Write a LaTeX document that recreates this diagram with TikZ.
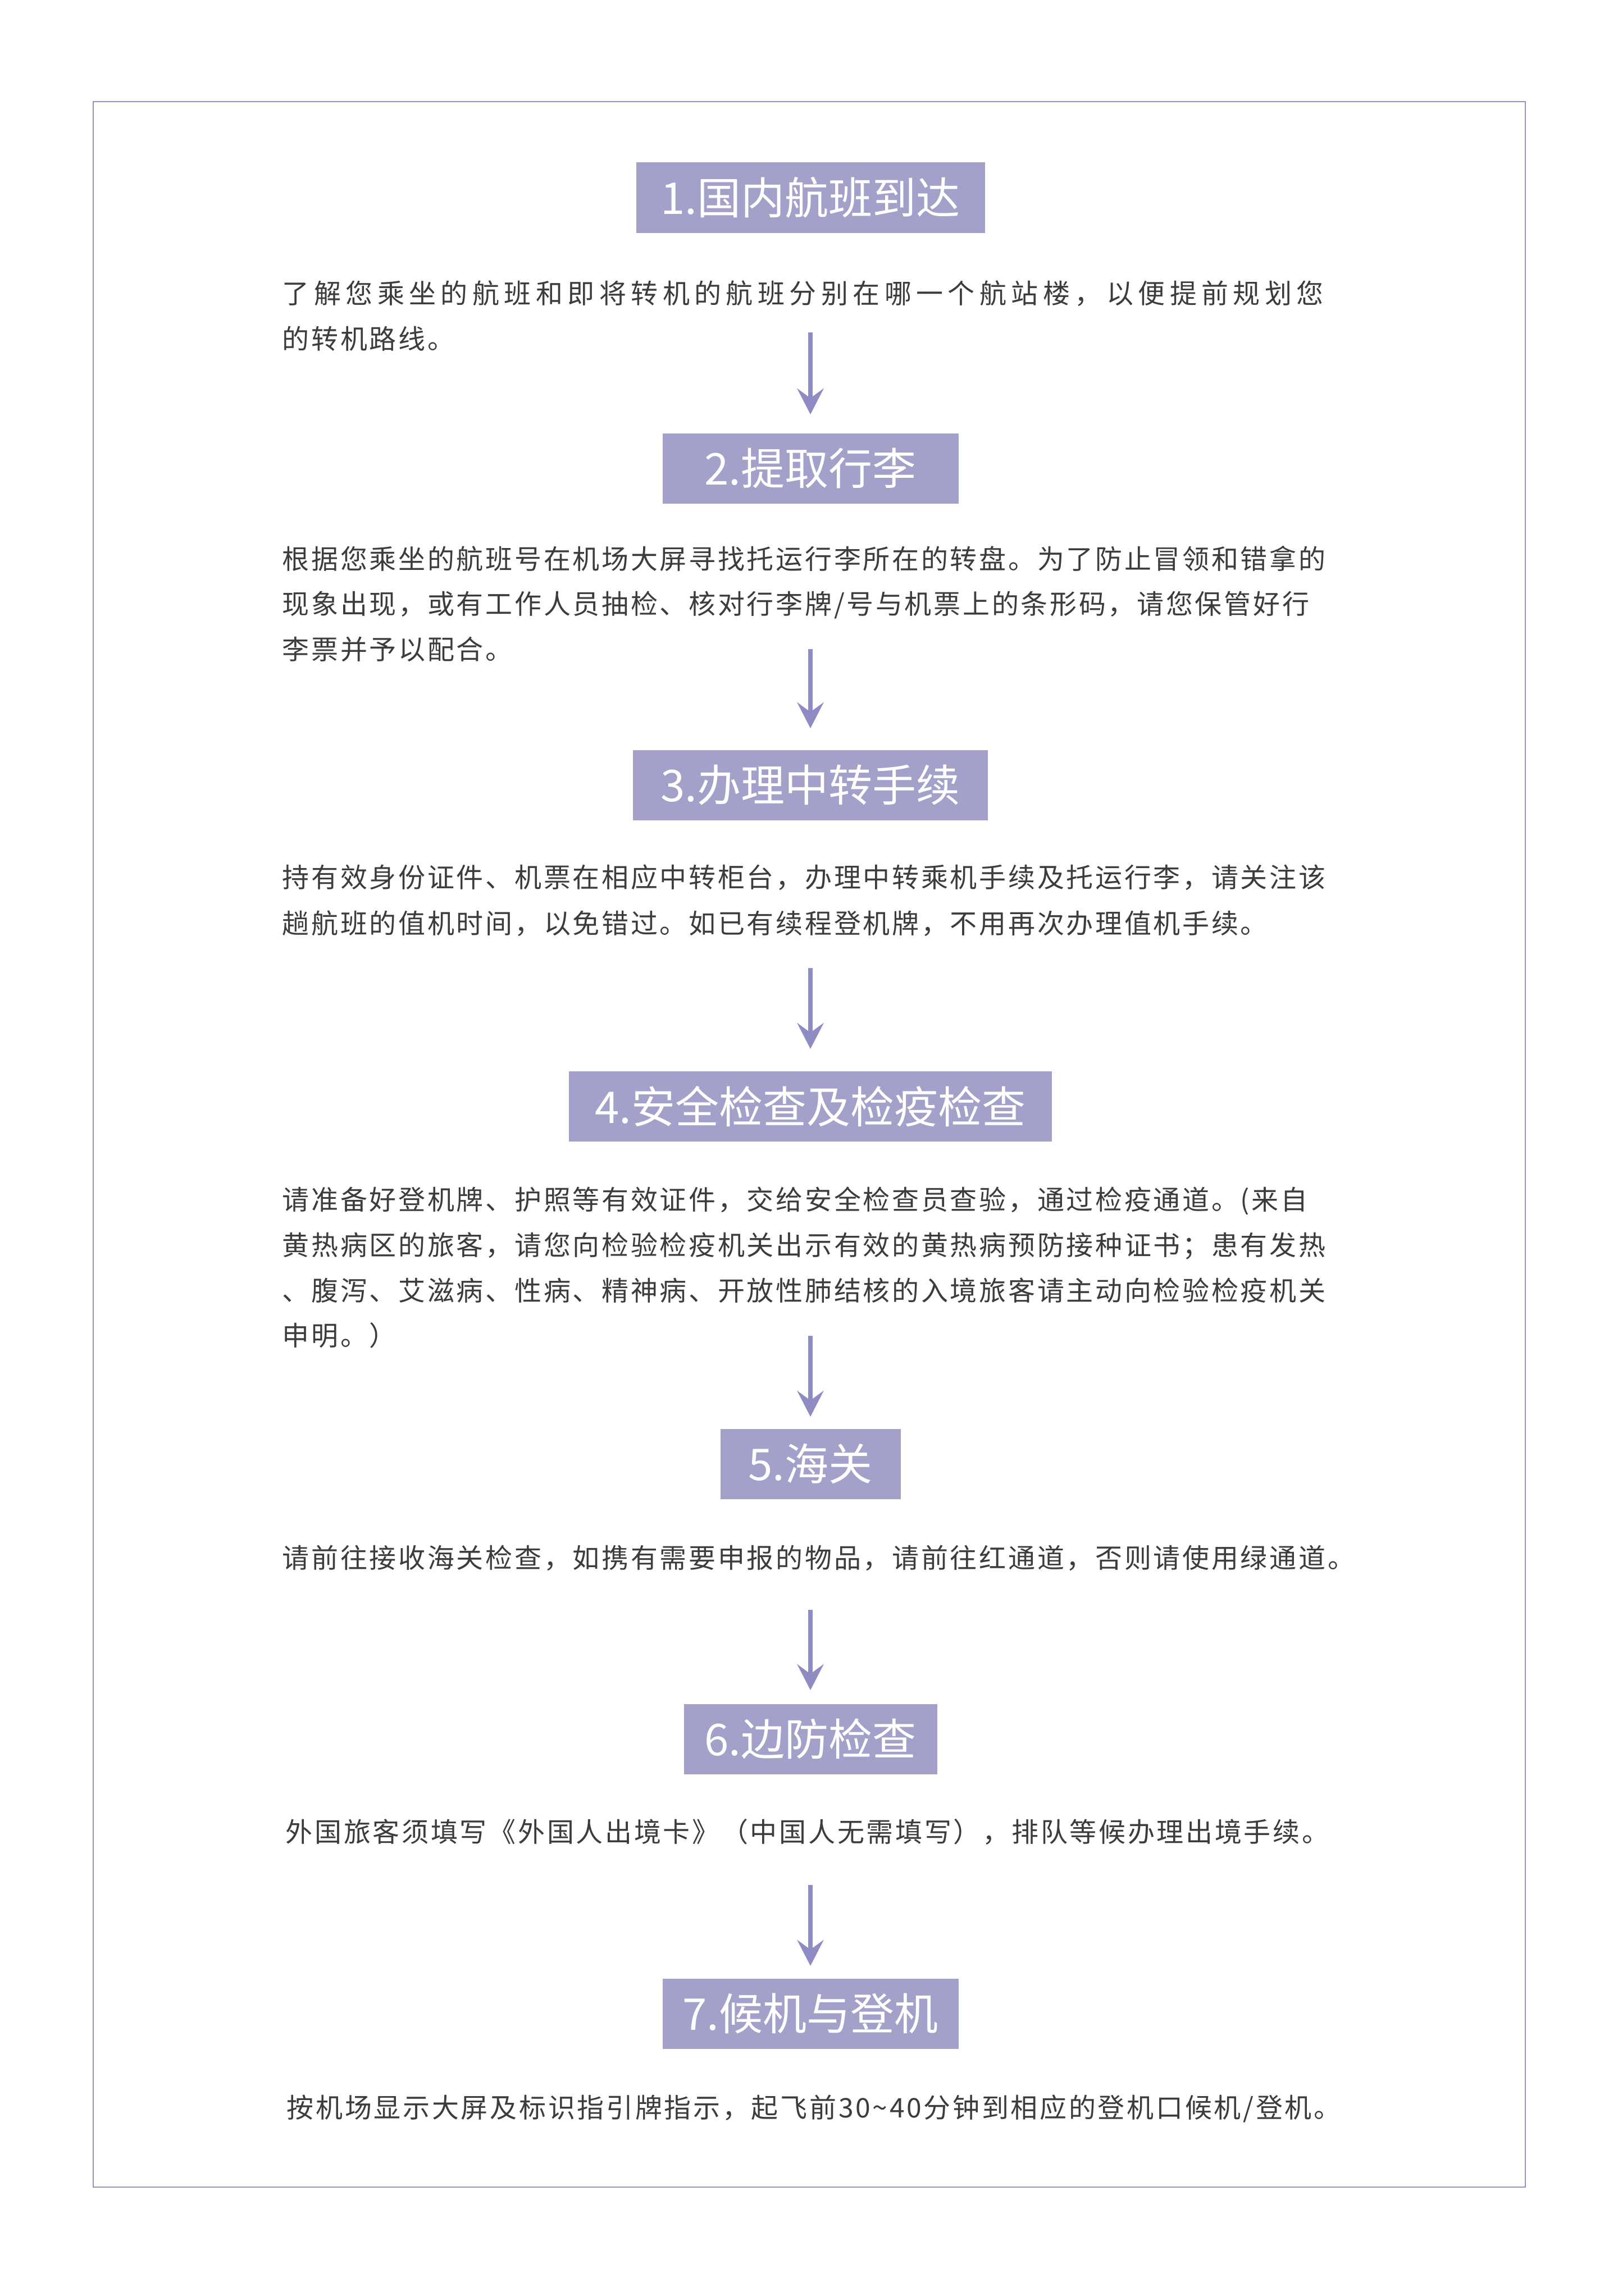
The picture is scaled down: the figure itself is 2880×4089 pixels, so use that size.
\documentclass[tikz,border=0pt]{standalone}
\usepackage{fontspec}
\setmainfont{Noto Sans CJK SC}
\usetikzlibrary{arrows.meta}
\definecolor{boxc}{HTML}{A3A0CA}
\definecolor{arrowc}{HTML}{8F8CC4}
\definecolor{framec}{HTML}{9491C6}
\definecolor{textc}{HTML}{3C3C3C}
\ExplSyntaxOn
\NewDocumentCommand\ls{m}{\tl_map_inline:nn{#1}{##1\kern0.925pt}\unkern}
\NewDocumentCommand\js{mm}{\makebox[#1][s]{\tl_map_inline:nn{#2}{##1\hfil}\unskip}}
\ExplSyntaxOff
\begin{document}
\begin{tikzpicture}[x=0.25pt,y=-0.25pt,
  titlebox/.style={fill=boxc, text=white, inner sep=0pt, minimum height=31.25pt,
    font=\fontsize{19.5pt}{19.5pt}\selectfont},
  bodyline/.style={anchor=base west, inner sep=0pt, text=textc,
    font=\fontsize{12pt}{12pt}\selectfont},
  flowarrow/.style={draw=arrowc, line width=2pt,
    -{Stealth[length=11.5pt,width=11.75pt,inset=4.25pt]}}]
\useasboundingbox (0,0) rectangle (2880,4089);
\fill[white] (0,0) rectangle (2880,4089);
\draw[framec, line width=0.625pt] (166,181) rectangle (2716,3895);

% step boxes
\node[titlebox, minimum width=155.25pt] (b1) at (1443,352) {1.国内航班到达};
\node[titlebox, minimum width=131.75pt] (b2) at (1443,834) {2.提取行李};
\node[titlebox, minimum width=158pt] (b3) at (1443,1398) {3.办理中转手续};
\node[titlebox, minimum width=215pt] (b4) at (1443,1970) {4.安全检查及检疫检查};
\node[titlebox, minimum width=80.25pt] (b5) at (1443,2607) {5.海关};
\node[titlebox, minimum width=112.75pt] (b6) at (1443,3097) {6.边防检查};
\node[titlebox, minimum width=131.75pt] (b7) at (1443,3586) {7.候机与登机};

% paragraphs
\node[bodyline] (p1a) at (502,540) {\js{463.5pt}{了解您乘坐的航班和即将转机的航班分别在哪一个航站楼，以便提前规划您}};
\node[bodyline] (p1b) at (502,621) {\ls{的转机路线。}};

\node[bodyline] (p2a) at (502,1013) {\ls{根据您乘坐的航班号在机场大屏寻找托运行李所在的转盘。为了防止冒领和错拿的}};
\node[bodyline] (p2b) at (502,1093) {\ls{现象出现，或有工作人员抽检、核对行李牌/号与机票上的条形码，请您保管好行}};
\node[bodyline] (p2c) at (502,1174) {\ls{李票并予以配合。}};

\node[bodyline] (p3a) at (502,1580) {\ls{持有效身份证件、机票在相应中转柜台，办理中转乘机手续及托运行李，请关注该}};
\node[bodyline] (p3b) at (502,1662) {\ls{趟航班的值机时间，以免错过。如已有续程登机牌，不用再次办理值机手续。}};

\node[bodyline] (p4a) at (502,2154) {\ls{请准备好登机牌、护照等有效证件，交给安全检查员查验，通过检疫通道。(来自}};
\node[bodyline] (p4b) at (502,2235) {\ls{黄热病区的旅客，请您向检验检疫机关出示有效的黄热病预防接种证书；患有发热}};
\node[bodyline] (p4c) at (502,2316) {\ls{、腹泻、艾滋病、性病、精神病、开放性肺结核的入境旅客请主动向检验检疫机关}};
\node[bodyline] (p4d) at (502,2396) {\ls{申明。）}};

\node[bodyline] (p5) at (502,2792) {\ls{请前往接收海关检查，如携有需要申报的物品，请前往红通道，否则请使用绿通道。}};

\node[bodyline] (p6) at (508,3280) {\ls{外国旅客须填写《外国人出境卡》（中国人无需填写），排队等候办理出境手续。}};

\node[bodyline] (p7) at (510,3771) {\ls{按机场显示大屏及标识指引牌指示，起飞前30{\textasciitilde}40分钟到相应的登机口候机/登机。}};

% connectors
\coordinate (a1s) at (1443,592);  \coordinate (a1e) at (1443,738);
\coordinate (a2s) at (1443,1156); \coordinate (a2e) at (1443,1297);
\coordinate (a3s) at (1443,1724); \coordinate (a3e) at (1443,1868);
\coordinate (a4s) at (1443,2379); \coordinate (a4e) at (1443,2523);
\coordinate (a5s) at (1443,2867); \coordinate (a5e) at (1443,3010);
\coordinate (a6s) at (1443,3357); \coordinate (a6e) at (1443,3501);
\draw[flowarrow] (a1s) -- (a1e);
\draw[flowarrow] (a2s) -- (a2e);
\draw[flowarrow] (a3s) -- (a3e);
\draw[flowarrow] (a4s) -- (a4e);
\draw[flowarrow] (a5s) -- (a5e);
\draw[flowarrow] (a6s) -- (a6e);
\end{tikzpicture}
\end{document}
